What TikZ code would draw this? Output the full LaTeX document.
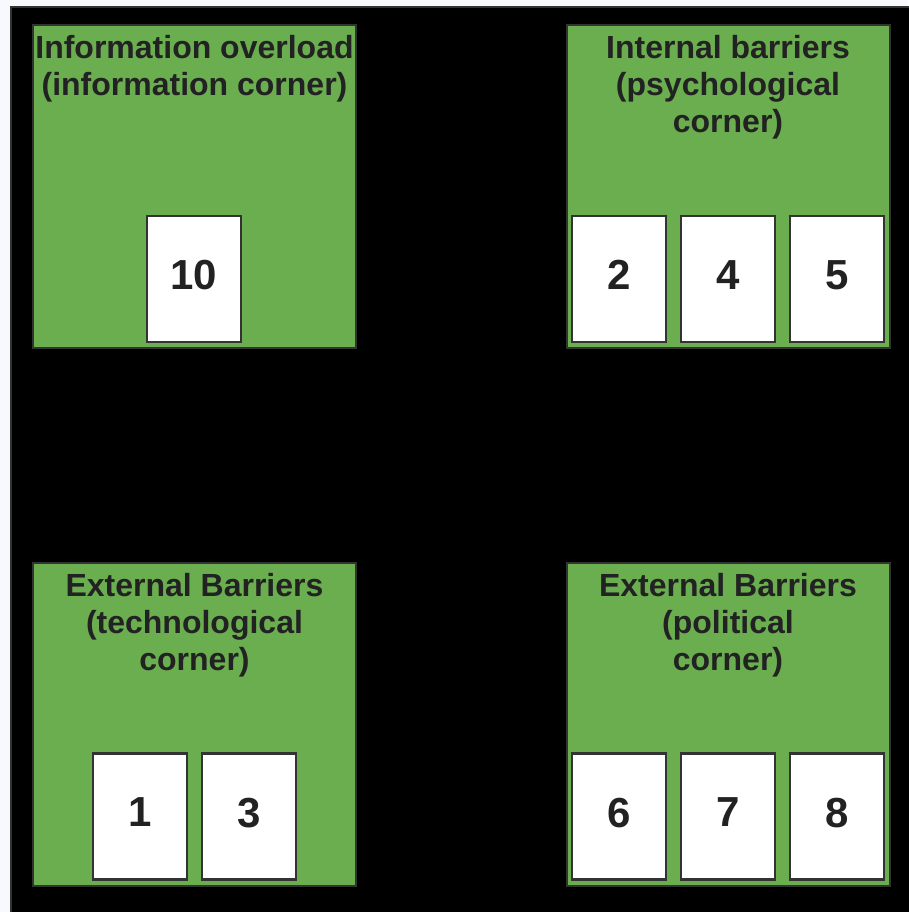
\documentclass[tikz,border=0pt]{standalone}
\usepackage{fontspec}
\setmainfont{Liberation Sans}
\definecolor{cgreen}{HTML}{6AAE50}
\definecolor{ctext}{HTML}{222222}
\definecolor{cedge}{HTML}{333333}
\definecolor{cpage}{HTML}{F7F9FC}
\begin{document}
\begin{tikzpicture}[x=1pt,y=-1pt,
  corner/.style={draw=cedge,line width=2pt,fill=cgreen,minimum width=323pt,minimum height=323pt,inner sep=0pt,outer sep=0pt},
  title/.style={anchor=north,inner sep=0pt,text=ctext,align=center,font=\bfseries\fontsize{32}{37}\selectfont},
  card/.style={draw=cedge,line width=2.5pt,fill=white,minimum width=94pt,minimum height=126pt,inner sep=0pt,text depth=8pt,text=ctext,font=\bfseries\fontsize{42}{46}\selectfont}]
\useasboundingbox (0,0) rectangle (908,912);
\fill[cpage] (0,0) rectangle (908,912);
\node[fill=black,draw=cedge,line width=2pt,minimum width=900pt,minimum height=908pt,inner sep=0pt,anchor=north west] (bg) at (10,6) {};
% corners
\node[corner] (tl) at (194.5,186.5) {};
\node[corner] (tr) at (728,186.5) {};
\node[corner] (bl) at (194.5,724.5) {};
\node[corner] (br) at (728,724.5) {};
% titles
\node[title] (ttl) at (194.5,35) {Information overload\\(information corner)};
\node[title] (ttr) at (728,35) {Internal barriers\\(psychological\\corner)};
\node[title] (tbl) at (194.5,573) {External Barriers\\(technological\\corner)};
\node[title] (tbr) at (728,573) {External Barriers\\(political\\corner)};
% cards
\node[card] (c10) at (194,279) {10};
\node[card] (c2) at (619,279) {2};
\node[card] (c4) at (728,279) {4};
\node[card] (c5) at (837,279) {5};
\node[card] (c1) at (140,816.5) {1};
\node[card] (c3) at (249,816.5) {3};
\node[card] (c6) at (619,816.5) {6};
\node[card] (c7) at (728,816.5) {7};
\node[card] (c8) at (837,816.5) {8};
\end{tikzpicture}
\end{document}
